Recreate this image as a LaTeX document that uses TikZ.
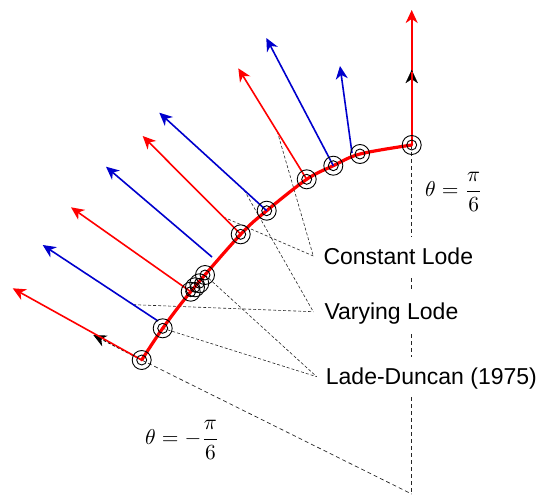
\documentclass[tikz,border=0pt]{standalone}
\usepackage[no-math]{fontspec}
\usepackage{graphicx}
\newfontfamily\labelfont{Liberation Sans}
\usetikzlibrary{arrows.meta,calc}
\definecolor{myred}{RGB}{255,0,0}
\definecolor{myblue}{RGB}{0,0,205}
\begin{document}
\begin{tikzpicture}[x=1pt,y=-1pt,
  vec/.style={line width=1.6pt,-{Stealth[length=13pt,width=12pt,inset=4pt]}},
  redvec/.style={vec,draw=myred,fill=myred},
  bluevec/.style={vec,draw=myblue,fill=myblue},
  blackvec/.style={line width=1pt,draw=black,-{Stealth[length=13pt,width=12pt,inset=4pt]}},
  ring/.style={circle,draw=black,line width=0.9pt,minimum size=19pt,inner sep=0pt,
    path picture={\draw[line width=0.9pt] (path picture bounding box.center) circle (5pt);}},
  leader/.style={draw=black!85,line width=0.6pt,dash pattern=on 3pt off 2pt},
  guide/.style={draw=black!85,line width=0.7pt,dash pattern=on 4pt off 3pt},
  lbl/.style={font=\labelfont\fontsize{23}{27}\selectfont,anchor=west,fill=white,
    inner xsep=10pt,inner ysep=11pt,text height=16.5pt,text depth=0pt},
  mathlbl/.style={anchor=base west,inner sep=0pt}
]
\useasboundingbox (0,0) rectangle (540,498);
% points on the curve
\coordinate (O) at (411.7,494);
\coordinate (p1) at (141.7,360);
\coordinate (p2) at (162.7,328.3);
\coordinate (p3) at (190.7,291.7);
\coordinate (p4) at (195,287.3);
\coordinate (p5) at (199.3,283.3);
\coordinate (p6) at (205,275);
\coordinate (p7) at (240.7,234.3);
\coordinate (p8) at (266.7,210.7);
\coordinate (p9) at (306.7,179.3);
\coordinate (p10) at (333.3,165.7);
\coordinate (p11) at (360,154);
\coordinate (p12) at (411.7,145);
\coordinate (b2) at (158,321);
\coordinate (b5) at (212,257);
\coordinate (b11) at (352,153);
% arrow tips
\coordinate (t1) at (12.7,288.3);
\coordinate (k1) at (93.3,335);
\coordinate (tb2) at (42.7,245);
\coordinate (t3) at (71,207.3);
\coordinate (tb5) at (106,166.7);
\coordinate (t7) at (142.7,136);
\coordinate (t8) at (159.3,112.7);
\coordinate (t9) at (238.3,68.3);
\coordinate (t10) at (266.3,38);
\coordinate (tb11) at (340,66);
\coordinate (k12) at (411.7,70);
\coordinate (t12) at (411.7,10);

% guide lines
\draw[guide] (p12) -- (O);
\draw[guide] (p1) -- (O);

% labels
\node[lbl] (cl) at (313.3,256) {Constant Lode};
\node[lbl,inner xsep=11pt] (vl) at (313.3,311.7) {Varying Lode};
\node[lbl,inner xsep=9pt] (ld) at (316.7,376.7) {Lade-Duncan (1975)};
\node[mathlbl] (th1) at (425,196.5) {\scalebox{2.15}{$\displaystyle\theta=\frac{\pi}{6}$}};
\node[mathlbl] (th2) at (145,444.5) {\scalebox{2.15}{$\displaystyle\theta=-\frac{\pi}{6}$}};

% leaders
\draw[leader] ($(p9)!0.43!(t9)$) -- (cl.west);
\draw[leader] ($(p7)!0.175!(t7)$) -- (cl.west);
\draw[leader] ($(p8)!0.21!(t8)$) -- (vl.west);
\draw[leader] ($(b2)!0.215!(tb2)$) -- (vl.west);
\draw[leader] (p6) -- (ld.west);
\draw[leader] (p2) -- (ld.west);

% curve
\draw[myred,line width=3.2pt,line cap=round] plot[smooth,tension=0.55] coordinates
  {(p1) (p2) (p3) (p7) (p8) (p9) (p10) (p11) (p12)};

% vectors
\draw[blackvec,dash pattern=on 3pt off 2pt] (p1) -- (k1);
\draw[redvec] (p1) -- (t1);
\draw[bluevec] (b2) -- (tb2);
\draw[redvec] (p3) -- (t3);
\draw[bluevec] (b5) -- (tb5);
\draw[redvec] (p7) -- (t7);
\draw[bluevec] (p8) -- (t8);
\draw[redvec] (p9) -- (t9);
\draw[bluevec] (p10) -- (t10);
\draw[bluevec] (b11) -- (tb11);
\draw[redvec] (p12) -- (t12);
\draw[black,fill=black,line width=0.1pt] (k12) -- ($(k12)+(-6,13)$) -- ($(k12)+(0,9)$) -- ($(k12)+(6,13)$) -- cycle;
\draw[myred,line width=1.6pt] ($(k12)+(0,2)$) -- ($(k12)+(0,13)$);

% rings
\foreach \i in {1,...,12} {\node[ring] (c\i) at (p\i) {};}
\end{tikzpicture}
\end{document}
